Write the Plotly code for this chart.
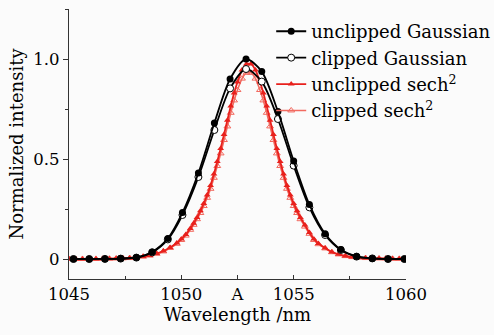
import plotly.graph_objects as go

# Gaussian data (nm, normalized intensity)
gauss_wl = [1045.2, 1045.9, 1046.6, 1047.3, 1048.0, 1048.7, 1049.4, 1050.05, 1050.76, 1051.47,
            1052.17, 1052.88, 1053.58, 1054.3, 1055.0, 1055.7, 1056.4, 1057.1, 1057.8, 1058.5,
            1059.2, 1059.93]
gauss_unclipped = [0.0, 0.0, 0.0005, 0.002, 0.008, 0.035, 0.103, 0.232, 0.43, 0.68,
                   0.90, 1.0, 0.937, 0.737, 0.49, 0.272, 0.126, 0.047, 0.013, 0.003,
                   0.0, 0.0]
gauss_clipped = [0.0, 0.0, 0.0005, 0.002, 0.007, 0.033, 0.098, 0.22, 0.41, 0.645,
                 0.853, 0.95, 0.887, 0.70, 0.467, 0.258, 0.12, 0.045, 0.012, 0.003,
                 0.0, 0.0]

# sech^2 data
sech_wl = [1045.0, 1045.3, 1045.6, 1045.9, 1046.2, 1046.5, 1046.8, 1047.1, 1047.4, 1047.7,
           1048.0, 1048.3, 1048.6, 1048.9, 1049.2, 1049.5, 1049.8,
           1050.0, 1050.2, 1050.4, 1050.55, 1050.7, 1050.85, 1051.0, 1051.15, 1051.3, 1051.45,
           1051.6, 1051.75, 1051.9, 1052.05, 1052.2, 1052.35, 1052.5, 1052.7, 1052.9, 1053.1,
           1053.3, 1053.5, 1053.65, 1053.8, 1053.95, 1054.1, 1054.25, 1054.4, 1054.55, 1054.7,
           1054.85, 1055.0, 1055.15, 1055.3, 1055.5, 1055.7, 1055.9, 1056.1,
           1056.4, 1056.7, 1057.0, 1057.3, 1057.6, 1057.9, 1058.2, 1058.5, 1058.8, 1059.1,
           1059.4, 1059.7, 1060.0]
sech_unclipped = [0.0, 0.0, 0.0003, 0.0004, 0.0006, 0.001, 0.0017, 0.0025, 0.0035, 0.005,
                  0.008, 0.012, 0.018, 0.027, 0.04, 0.058, 0.08,
                  0.10, 0.123, 0.153, 0.179, 0.208, 0.241, 0.278, 0.32, 0.368, 0.425,
                  0.487, 0.553, 0.623, 0.694, 0.765, 0.83, 0.885, 0.945, 0.975, 0.975,
                  0.945, 0.885, 0.83, 0.765, 0.694, 0.623, 0.553, 0.487, 0.425, 0.368,
                  0.32, 0.278, 0.241, 0.208, 0.17, 0.132, 0.10, 0.078,
                  0.055, 0.035, 0.024, 0.015, 0.01, 0.007, 0.005, 0.004, 0.0028, 0.002,
                  0.0013, 0.0008, 0.0005]
sech_clipped = [0.0, 0.0, 0.0003, 0.0004, 0.0006, 0.001, 0.0016, 0.0024, 0.0033, 0.0048,
                0.0076, 0.0115, 0.017, 0.026, 0.038, 0.055, 0.076,
                0.095, 0.117, 0.146, 0.171, 0.199, 0.23, 0.265, 0.306, 0.351, 0.406,
                0.465, 0.528, 0.595, 0.663, 0.731, 0.793, 0.845, 0.902, 0.931, 0.931,
                0.902, 0.845, 0.793, 0.731, 0.663, 0.595, 0.528, 0.465, 0.406, 0.351,
                0.306, 0.265, 0.23, 0.199, 0.162, 0.126, 0.095, 0.074,
                0.053, 0.034, 0.023, 0.0145, 0.0096, 0.0067, 0.0048, 0.0038, 0.0027, 0.0019,
                0.0012, 0.0008, 0.0005]

x_tickvals = [1045, 1050, 1052.5, 1055, 1060]
x_ticktext = ["1045", "1050", "A", "1055", "1060"]
y_tickvals = [0, 0.5, 1.0]
y_ticktext = ["0", "0.5", "1.0"]

FONT = "DejaVu Serif"
RED = "#e8201c"
LRED = "#f26a60"

fig = go.Figure()
fig.add_trace(go.Scatter(
    x=sech_wl, y=sech_clipped, name="clipped sech<sup>2</sup>", mode="lines+markers",
    line=dict(color=LRED, width=1.6, shape="spline", smoothing=0.5),
    marker=dict(symbol="triangle-up-open", size=6, color=LRED, line=dict(width=1)),
    legendrank=4))
fig.add_trace(go.Scatter(
    x=sech_wl, y=sech_unclipped, name="unclipped sech<sup>2</sup>", mode="lines+markers",
    line=dict(color=RED, width=1.8, shape="spline", smoothing=0.5),
    marker=dict(symbol="triangle-up", size=6, color=RED),
    legendrank=3))
fig.add_trace(go.Scatter(
    x=gauss_wl, y=gauss_clipped, name="clipped Gaussian", mode="lines+markers",
    line=dict(color="black", width=1.8, shape="spline", smoothing=0.8),
    marker=dict(symbol="circle", size=7, color="white", line=dict(color="black", width=1)),
    legendrank=2))
fig.add_trace(go.Scatter(
    x=gauss_wl, y=gauss_unclipped, name="unclipped Gaussian", mode="lines+markers",
    line=dict(color="black", width=1.8, shape="spline", smoothing=0.8),
    marker=dict(symbol="circle", size=7, color="black"),
    legendrank=1))

fig.update_layout(
    width=494, height=335,
    margin=dict(l=69, r=88, t=9, b=56, autoexpand=False),
    paper_bgcolor="#fbfbfb", plot_bgcolor="#fbfbfb",
    font=dict(family=FONT, size=16, color="black"),
    showlegend=True,
    legend=dict(x=0.6, y=0.985, xanchor="left", yanchor="top",
                bgcolor="rgba(0,0,0,0)", borderwidth=0,
                font=dict(family=FONT, size=18), tracegroupgap=0),
    xaxis=dict(range=[1045, 1060], showgrid=False, zeroline=False,
               showline=True, linecolor="#333", linewidth=1.2,
               tickvals=x_tickvals, ticktext=x_ticktext,
               ticks="inside", ticklen=4, tickcolor="#333",
               minor=dict(tickvals=[1047.5, 1052.5, 1057.5], ticks="inside", ticklen=2.5, tickcolor="#333"),
               title=dict(text="Wavelength /nm", font=dict(family=FONT, size=18), standoff=5),
               tickfont=dict(family=FONT, size=16.5)),
    yaxis=dict(range=[-0.1, 1.25], showgrid=False, zeroline=False,
               showline=True, linecolor="#333", linewidth=1.2,
               tickvals=y_tickvals, ticktext=y_ticktext,
               ticks="outside", ticklen=5, tickcolor="#333",
               minor=dict(tickvals=[0.25, 0.75, 1.25], ticks="outside", ticklen=2.5, tickcolor="#333"),
               title=dict(text="Normalized intensity", font=dict(family=FONT, size=18), standoff=5),
               tickfont=dict(family=FONT, size=16.5)),
)

fig.write_html("out.html")
